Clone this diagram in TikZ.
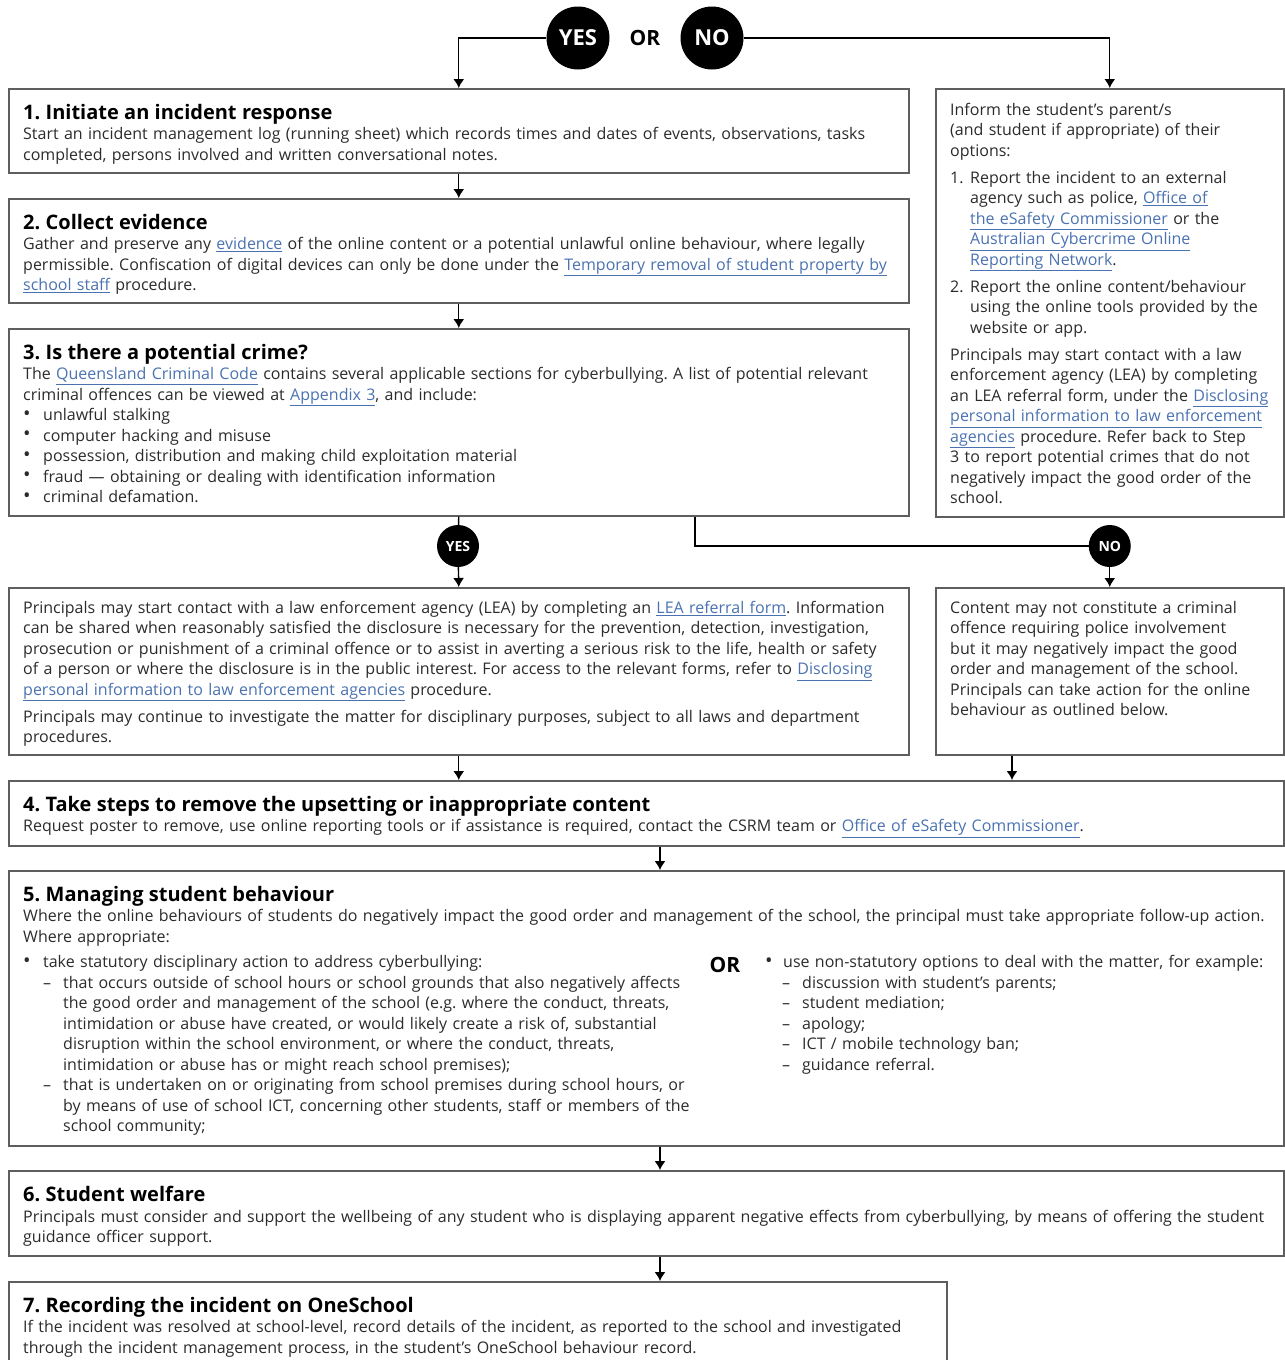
\documentclass[tikz,border=0pt]{standalone}
\usepackage{fontspec}
\setmainfont{Open Sans}
\usepackage{xcolor}
\usepackage{tikz}
\usetikzlibrary{arrows.meta}

\definecolor{boxgray}{HTML}{5E5E5E}
\definecolor{linkblue}{HTML}{4A72B0}
\definecolor{txtgray}{HTML}{2B2B2B}

% link text, blue and underlined
\newcommand{\lnk}[1]{{\color{linkblue}\underline{#1}}}
% step title
\newcommand{\ttl}[1]{{\fontsize{20}{22}\selectfont\bfseries\color{black}#1\par}}
% ragged right text, and a line break that stays inside the paragraph
\newcommand{\ragtext}{\rightskip=0pt plus 1fil\relax}
\newcommand{\nl}{\hfil\break}
% bullet and dash items with hanging indent
\newcommand{\bul}{\raisebox{.5pt}{\scalebox{1.25}{\textbullet}}}
\newcommand{\bitem}[2][20pt]{\par\hangindent=#1\hangafter=0\noindent\llap{\makebox[#1][l]{\bul}}#2}
\newcommand{\ditem}[3][20pt]{\par\hangindent=#2\hangafter=0\noindent\llap{\makebox[#1][l]{–}}#3}
\newcommand{\nitem}[2]{\par\hangindent=20pt\hangafter=0\noindent\llap{\makebox[20pt][l]{#1}}#2}
\newcommand{\gap}{\par\vspace{6.5pt}}

\begin{document}
\begin{tikzpicture}[x=1pt, y=-1pt,
        box/.style={draw=boxgray, line width=1.5pt, rectangle, inner sep=0pt, anchor=north west},
        txt/.style={anchor=north west, inner sep=0pt, text=txtgray, font=\fontsize{16}{20.5}\selectfont\ragtext\frenchspacing},
        bigdot/.style={circle, fill=black, text=white, inner sep=0pt, minimum size=63pt, font=\fontsize{22}{22}\selectfont\bfseries},
        smalldot/.style={circle, fill=black, text=white, inner sep=0pt, minimum size=42pt, font=\fontsize{14}{14}\selectfont\bfseries},
        orlabel/.style={inner sep=0pt, font=\fontsize{21}{21}\selectfont\bfseries},
        arr/.style={-{Latex[length=9pt,width=11pt]}, line width=1.4pt},
        line/.style={line width=1.4pt}]
    \useasboundingbox (0,0) rectangle (1285,1360);
    \clip (0,0) rectangle (1285,1360);

    % the boxes
    \node[box, minimum width=900pt, minimum height=84pt] (s1) at (8,88) {};
    \node[box, minimum width=900pt, minimum height=104pt] (s2) at (8,198) {};
    \node[box, minimum width=900pt, minimum height=187pt] (s3) at (8,328) {};
    \node[box, minimum width=348pt, minimum height=428pt] (inform) at (935,88) {};
    \node[box, minimum width=900pt, minimum height=167pt] (lea) at (8,587) {};
    \node[box, minimum width=348pt, minimum height=167pt] (nocrime) at (935,587) {};
    \node[box, minimum width=1275pt, minimum height=65pt] (s4) at (8,780) {};
    \node[box, minimum width=1275pt, minimum height=275pt] (s5) at (8,870) {};
    \node[box, minimum width=1275pt, minimum height=85pt] (s6) at (8,1170) {};
    \node[box, minimum width=938pt, minimum height=110pt] (s7) at (8,1281) {};

    % decision dots
    \node[bigdot] (yes) at (578,38) {YES};
    \node[orlabel] (or) at (645,38) {OR};
    \node[bigdot] (no) at (712,38) {NO};
    \node[smalldot] (yes2) at (458,546) {YES};
    \coordinate (brk) at (695,546);
    \node[smalldot] (no2) at (nocrime.north |- brk) {NO};

    % texts
    \node[txt, text width=880pt] (t1) at ([shift={(15,16)}]s1.north west) {%
        \ttl{1. Initiate an incident response}
        Start an incident management log (running sheet) which records times and dates of events, observations, tasks\nl
        completed, persons involved and written conversational notes.\par};
    \node[txt, text width=880pt] (t2) at ([shift={(15,16)}]s2.north west) {%
        \ttl{2. Collect evidence}
        Gather and preserve any \lnk{evidence} of the online content or a potential unlawful online behaviour, where legally\nl
        permissible. Confiscation of digital devices can only be done under the \lnk{Temporary removal of student property by}\nl
        \lnk{school staff} procedure.\par};
    \node[txt, text width=880pt] (t3) at ([shift={(15,16)}]s3.north west) {%
        \ttl{3. Is there a potential crime?}
        The \lnk{Queensland Criminal Code} contains several applicable sections for cyberbullying. A list of potential relevant\nl
        criminal offences can be viewed at \lnk{Appendix 3}, and include:
        \bitem{unlawful stalking}
        \bitem{computer hacking and misuse}
        \bitem{possession, distribution and making child exploitation material}
        \bitem{fraud — obtaining or dealing with identification information}
        \bitem{criminal defamation.}\par};
    \node[txt, text width=328pt] (tinf) at ([shift={(15,15)}]inform.north west) {%
        Inform the student’s parent/s\nl
        (and student if appropriate) of their\nl
        options:\gap
        \nitem{1.}{Report the incident to an external\nl
        agency such as police, \lnk{Office of}\nl
        \lnk{the eSafety Commissioner} or the\nl
        \lnk{Australian Cybercrime Online}\nl
        \lnk{Reporting Network}.}\gap
        \nitem{2.}{Report the online content/behaviour\nl
        using the online tools provided by the\nl
        website or app.}\gap
        \noindent Principals may start contact with a law\nl
        enforcement agency (LEA) by completing\nl
        an LEA referral form, under the \lnk{Disclosing}\nl
        \lnk{personal information to law enforcement}\nl
        \lnk{agencies} procedure. Refer back to Step\nl
        3 to report potential crimes that do not\nl
        negatively impact the good order of the\nl
        school.\par};
    \node[txt, text width=880pt] (tlea) at ([shift={(15,14)}]lea.north west) {%
        Principals may start contact with a law enforcement agency (LEA) by completing an \lnk{LEA referral form}. Information\nl
        can be shared when reasonably satisfied the disclosure is necessary for the prevention, detection, investigation,\nl
        prosecution or punishment of a criminal offence or to assist in averting a serious risk to the life, health or safety\nl
        of a person or where the disclosure is in the public interest. For access to the relevant forms, refer to \lnk{Disclosing}\nl
        \lnk{personal information to law enforcement agencies} procedure.\gap
        Principals may continue to investigate the matter for disciplinary purposes, subject to all laws and department\nl
        procedures.\par};
    \node[txt, text width=328pt] (tno) at ([shift={(15,14)}]nocrime.north west) {%
        Content may not constitute a criminal\nl
        offence requiring police involvement\nl
        but it may negatively impact the good\nl
        order and management of the school.\nl
        Principals can take action for the online\nl
        behaviour as outlined below.\par};
    \node[txt, text width=1260pt] (t4) at ([shift={(15,16)}]s4.north west) {%
        \ttl{4. Take steps to remove the upsetting or inappropriate content}
        Request poster to remove, use online reporting tools or if assistance is required, contact the CSRM team or \lnk{Office of eSafety Commissioner}.\par};
    \node[txt, text width=1260pt] (t5) at ([shift={(15,16)}]s5.north west) {%
        \ttl{5. Managing student behaviour}
        Where the online behaviours of students do negatively impact the good order and management of the school, the principal must take appropriate follow-up action.\nl
        Where appropriate:\par};
    \node[txt, text width=720pt] (t5a) at ([shift={(15,77)}]s5.north west) {%
        \bitem{take statutory disciplinary action to address cyberbullying:}
        \ditem{40pt}{that occurs outside of school hours or school grounds that also negatively affects\nl
        the good order and management of the school (e.g. where the conduct, threats,\nl
        intimidation or abuse have created, or would likely create a risk of, substantial\nl
        disruption within the school environment, or where the conduct, threats,\nl
        intimidation or abuse has or might reach school premises);}
        \ditem{40pt}{that is undertaken on or originating from school premises during school hours, or\nl
        by means of use of school ICT, concerning other students, staff or members of the\nl
        school community;}\par};
    \node[orlabel] (or5) at (725,965) {OR};
    \node[txt, text width=510pt] (t5b) at ([shift={(757,77)}]s5.north west) {%
        \bitem[18pt]{use non-statutory options to deal with the matter, for example:}
        \ditem{37pt}{discussion with student’s parents;}
        \ditem{37pt}{student mediation;}
        \ditem{37pt}{apology;}
        \ditem{37pt}{ICT / mobile technology ban;}
        \ditem{37pt}{guidance referral.}\par};
    \node[txt, text width=1260pt] (t6) at ([shift={(15,16)}]s6.north west) {%
        \ttl{6. Student welfare}
        Principals must consider and support the wellbeing of any student who is displaying apparent negative effects from cyberbullying, by means of offering the student\nl
        guidance officer support.\par};
    \node[txt, text width=920pt] (t7) at ([shift={(15,16)}]s7.north west) {%
        \ttl{7. Recording the incident on OneSchool}
        If the incident was resolved at school-level, record details of the incident, as reported to the school and investigated\nl
        through the incident management process, in the student’s OneSchool behaviour record.\par};

    % connectors
    \coordinate (mid) at (660,0);
    \coordinate (nb) at (1012,0);
    \draw[arr] (yes) -| (s1.north);
    \draw[arr] (no) -| (inform.north);
    \draw[arr] (s1.south) -- (s2.north);
    \draw[arr] (s2.south) -- (s3.north);
    \draw[line] (s3.south) -- (yes2);
    \draw[arr] (yes2) -- (lea.north);
    \draw[line] (s3.south -| brk) -- (brk) -- (no2);
    \draw[arr] (no2) -- (nocrime.north);
    \draw[arr] (lea.south) -- (lea.south |- s4.north);
    \draw[arr] (nocrime.south -| nb) -- (s4.north -| nb);
    \draw[arr] (s4.south -| mid) -- (s5.north -| mid);
    \draw[arr] (s5.south -| mid) -- (s6.north -| mid);
    \draw[arr] (s6.south -| mid) -- (s7.north -| mid);
\end{tikzpicture}
\end{document}
